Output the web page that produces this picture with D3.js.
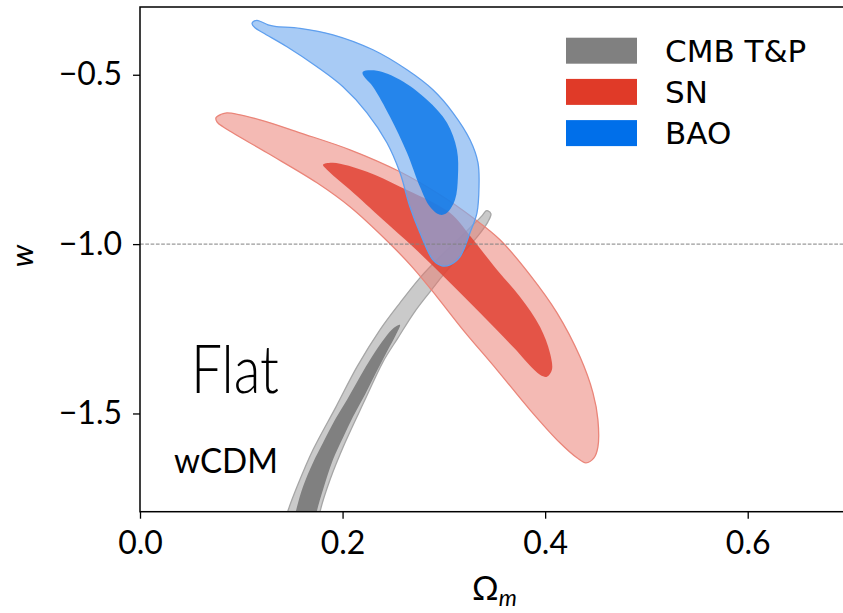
<!DOCTYPE html>
<html>
<head>
<meta charset="utf-8">
<script src="https://cdn.jsdelivr.net/npm/d3@7"></script>
<style>
  body { margin: 0; background: #fff; }
  svg { display: block; }
</style>
</head>
<body>
<div id="chart"></div>
<script>
// axis ticks
const xTicks = [0.0, 0.2, 0.4, 0.6];
const yTicks = [-0.5, -1.0, -1.5];
const legendLabels = ["CMB T&P", "SN", "BAO"];

// contours, [Omega_m, w]
const cmbOuter = [
  [0.3435, -0.9017], [0.3465, -0.9106], [0.3435, -0.9342], [0.3337, -0.9755], [0.3179, -1.0287],
  [0.3011, -1.0847], [0.2863, -1.1408], [0.2705, -1.2028], [0.2547, -1.2767], [0.2399, -1.3475],
  [0.2221, -1.4597], [0.2024, -1.5867], [0.1876, -1.6959], [0.1777, -1.7904], [0.1757, -1.8288],
  [0.1422, -1.8288], [0.1461, -1.7874], [0.1550, -1.7166], [0.1708, -1.6073], [0.1935, -1.4804],
  [0.2142, -1.3623], [0.2369, -1.2530], [0.2567, -1.1733], [0.2764, -1.0995], [0.2962, -1.0375],
  [0.3139, -0.9873], [0.3277, -0.9460], [0.3376, -0.9165], [0.3416, -0.9017]
];
const cmbInner = [
  [0.2567, -1.2383], [0.2527, -1.2678], [0.2448, -1.3121], [0.2330, -1.3800], [0.2221, -1.4450],
  [0.2103, -1.5099], [0.2004, -1.5719], [0.1905, -1.6369], [0.1807, -1.7254], [0.1747, -1.7874],
  [0.1718, -1.8288], [0.1510, -1.8288], [0.1540, -1.7874], [0.1609, -1.7166], [0.1708, -1.6457],
  [0.1807, -1.5867], [0.1925, -1.5188], [0.2044, -1.4597], [0.2172, -1.3918], [0.2290, -1.3328],
  [0.2419, -1.2767], [0.2507, -1.2471]
];
const snOuter = [
  [0.0750, -0.6271], [0.0800, -0.6168], [0.0859, -0.6123], [0.1185, -0.6330], [0.1580, -0.6714],
  [0.2073, -0.7216], [0.2567, -0.7865], [0.2962, -0.8545], [0.3287, -0.9224], [0.3554, -0.9873],
  [0.3850, -1.0907], [0.4117, -1.2028], [0.4344, -1.3328], [0.4472, -1.4390], [0.4521, -1.5188],
  [0.4521, -1.5985], [0.4482, -1.6310], [0.4403, -1.6457], [0.4314, -1.6310], [0.4146, -1.5867],
  [0.3850, -1.4892], [0.3524, -1.3711], [0.3189, -1.2530], [0.2932, -1.1556], [0.2695, -1.0700],
  [0.2468, -0.9991], [0.2073, -0.8899], [0.1747, -0.8190], [0.1254, -0.7304], [0.0819, -0.6537],
  [0.0760, -0.6389]
];
const snInner = [
  [0.1807, -0.7659], [0.1905, -0.7600], [0.2241, -0.7865], [0.2567, -0.8308], [0.3060, -0.9076],
  [0.3258, -0.9755], [0.3524, -1.0759], [0.3751, -1.1556], [0.3949, -1.2442], [0.4047, -1.3209],
  [0.4067, -1.3711], [0.4018, -1.3918], [0.3949, -1.3859], [0.3682, -1.3032], [0.3356, -1.2028],
  [0.3031, -1.1054], [0.2695, -1.0080], [0.2399, -0.9283], [0.2073, -0.8397], [0.1846, -0.7806]
];
const baoOuter = [
  [0.1116, -0.3437], [0.1155, -0.3392], [0.1264, -0.3525], [0.1333, -0.3570], [0.1580, -0.3629],
  [0.1905, -0.3820], [0.2300, -0.4263], [0.2636, -0.4854], [0.2892, -0.5444], [0.3090, -0.6123],
  [0.3258, -0.6921], [0.3337, -0.7600], [0.3347, -0.8308], [0.3327, -0.9076], [0.3258, -0.9666],
  [0.3159, -1.0375], [0.3060, -1.0611], [0.2981, -1.0641], [0.2892, -1.0464], [0.2764, -0.9666],
  [0.2665, -0.8899], [0.2567, -0.7895], [0.2438, -0.7009], [0.2241, -0.6123], [0.2004, -0.5356],
  [0.1747, -0.4765], [0.1451, -0.4175], [0.1214, -0.3761], [0.1135, -0.3614], [0.1106, -0.3496]
];
const baoInner = [
  [0.2201, -0.4913], [0.2340, -0.4883], [0.2567, -0.5149], [0.2833, -0.5740], [0.3031, -0.6419],
  [0.3129, -0.7216], [0.3139, -0.8013], [0.3110, -0.8692], [0.3031, -0.9076], [0.2962, -0.9135],
  [0.2863, -0.8899], [0.2764, -0.8308], [0.2636, -0.7304], [0.2468, -0.6242], [0.2300, -0.5356],
  [0.2201, -0.5002]
];

function draw() {
    var w = 843;
    var h = 613;
    var left = 140, right = 849, top = 7, bottom = 511.7;

    var svg = d3.select("#chart")
        .append("svg")
        .attr("width", w)
        .attr("height", h);

    var x = d3.scaleLinear().domain([0, 0.7]).range([left, right]);
    var y = d3.scaleLinear().domain([-1.79, -0.3]).range([bottom, top]);

    svg.append("clipPath").attr("id", "plotclip")
        .append("rect")
        .attr("x", left).attr("y", top)
        .attr("width", right - left).attr("height", bottom - top);

    var line = d3.line()
        .x(function(d) { return x(d[0]); })
        .y(function(d) { return y(d[1]); })
        .curve(d3.curveCatmullRomClosed.alpha(0.5));

    var plot = svg.append("g").attr("clip-path", "url(#plotclip)");

    // contour sets, drawn bottom to top
    var sets = [
        { outer: cmbOuter, inner: cmbInner, fo: "#cacaca", oo: 1, edge: "#a6a6a6", fi: "#808080", io: 1 },
        { outer: snOuter, inner: snInner, fo: "#e97569", oo: 0.5, edge: "#ea8579", fi: "#e14234", io: 0.85 },
        { outer: baoOuter, inner: baoInner, fo: "#79aff0", oo: 0.65, edge: "#5f9fee", fi: "#0e79e9", io: 0.85 }
    ];

    sets.forEach(function(s) {
        plot.append("path")
            .attr("d", line(s.outer))
            .attr("fill", s.fo)
            .attr("fill-opacity", s.oo)
            .attr("stroke", s.edge)
            .attr("stroke-width", 1.3);
        plot.append("path")
            .attr("d", line(s.inner))
            .attr("fill", s.fi)
            .attr("fill-opacity", s.io);
    });

    // w = -1 reference line
    svg.append("line")
        .attr("x1", left).attr("x2", right)
        .attr("y1", y(-1)).attr("y2", y(-1))
        .attr("stroke", "#808080")
        .attr("stroke-width", 1)
        .attr("stroke-dasharray", "3.7,1.6");

    // axes
    var xAxis = svg.append("g")
        .attr("transform", "translate(0," + bottom + ")")
        .call(d3.axisBottom(x).tickValues(xTicks).tickSize(7).tickPadding(13)
            .tickFormat(d3.format(".1f")));
    var yAxis = svg.append("g")
        .attr("transform", "translate(" + left + ",0)")
        .call(d3.axisLeft(y).tickValues(yTicks).tickSize(7).tickPadding(11)
            .tickFormat(d3.format(".1f")));

    [xAxis, yAxis].forEach(function(a) {
        a.select(".domain").remove();
        a.selectAll("line").attr("stroke", "#000").attr("stroke-width", 1.3);
        a.selectAll("text")
            .attr("fill", "#000")
            .style("font-family", "Lato, 'Open Sans', sans-serif")
            .style("font-size", "32px");
    });

    // frame
    svg.append("rect")
        .attr("x", left).attr("y", top)
        .attr("width", right - left).attr("height", bottom - top)
        .attr("fill", "none")
        .attr("stroke", "#000")
        .attr("stroke-width", 1.5);

    // axis labels
    svg.append("text")
        .attr("x", 472).attr("y", 600)
        .style("font-family", "Lato, 'DejaVu Sans', sans-serif")
        .style("font-size", "33px")
        .text("Ω")
        .append("tspan")
        .attr("dy", 6)
        .style("font-size", "23px")
        .style("font-style", "italic")
        .text("m");

    svg.append("text")
        .attr("transform", "translate(33,256) rotate(-90)")
        .attr("text-anchor", "middle")
        .style("font-family", "Lato, 'DejaVu Sans', sans-serif")
        .style("font-style", "italic")
        .style("font-size", "31px")
        .text("w");

    // annotations
    svg.append("text")
        .attr("x", 191).attr("y", 393)
        .attr("textLength", 88)
        .attr("lengthAdjust", "spacingAndGlyphs")
        .style("font-family", "Lato, sans-serif")
        .style("font-weight", "300")
        .style("font-size", "67px")
        .text("Flat");

    svg.append("text")
        .attr("x", 174).attr("y", 473)
        .attr("textLength", 104)
        .attr("lengthAdjust", "spacingAndGlyphs")
        .style("font-family", "Lato, sans-serif")
        .style("font-size", "35px")
        .text("wCDM");

    // legend
    var legendColors = ["#808080", "#e03a28", "#006fea"];
    var lg = svg.append("g");
    legendLabels.forEach(function(lab, i) {
        var ly = 37.7 + i * 41.2;
        lg.append("rect")
            .attr("x", 566).attr("y", ly)
            .attr("width", 71).attr("height", 26)
            .attr("fill", legendColors[i]);
        lg.append("text")
            .attr("x", 665).attr("y", ly + 13)
            .attr("dominant-baseline", "central")
            .style("font-family", "'DejaVu Sans', sans-serif")
            .style("font-size", "31px")
            .text(lab);
    });
}

window.onload = draw;
</script>
</body>
</html>
